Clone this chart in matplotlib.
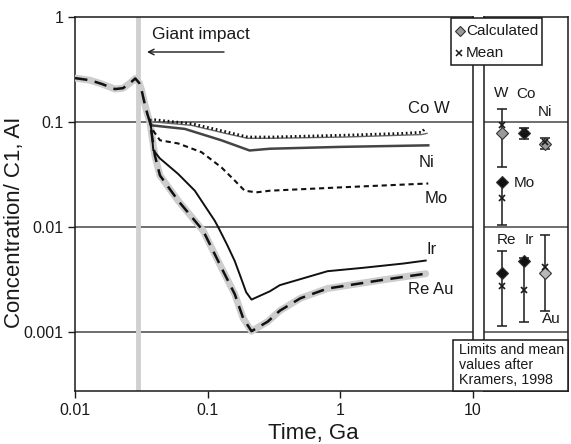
import matplotlib
matplotlib.use("Agg")
import matplotlib.pyplot as plt
from matplotlib.patches import Rectangle

plt.rcParams['font.family'] = ['Liberation Sans', 'DejaVu Sans']

# ---- data ----
# common early part (all elements together before the giant impact)
t_early = [0.01, 0.013, 0.016, 0.02, 0.023, 0.026, 0.0285, 0.0305, 0.0318, 0.0335, 0.0352, 0.0367]
c_early = [0.262, 0.25, 0.23, 0.206, 0.21, 0.235, 0.26, 0.235, 0.2, 0.15, 0.118, 0.1]

t_W = [0.0367, 0.04, 0.0757, 0.142, 0.2, 0.3, 1.1, 3.0, 4.1, 4.4]
c_W = [0.104, 0.105, 0.0965, 0.080, 0.072, 0.072, 0.075, 0.078, 0.080, 0.088]

t_Co = [0.0367, 0.04, 0.0757, 0.142, 0.2, 0.3, 1.1, 4.1, 4.5]
c_Co = [0.1, 0.1, 0.093, 0.077, 0.070, 0.070, 0.072, 0.076, 0.078]

t_Ni = [0.0367, 0.0378, 0.0673, 0.127, 0.207, 0.295, 1.0, 4.6]
c_Ni = [0.1, 0.093, 0.086, 0.067, 0.0536, 0.0557, 0.058, 0.060]

t_Mo = [0.0367, 0.0378, 0.0437, 0.06, 0.09, 0.127, 0.16, 0.19, 0.233, 0.295, 1.1, 4.6]
c_Mo = [0.1, 0.087, 0.067, 0.0625, 0.0516, 0.037, 0.0277, 0.0222, 0.0214, 0.0222, 0.024, 0.026]

t_Ir = [0.0367, 0.0378, 0.0389, 0.0437, 0.06, 0.08, 0.113, 0.12, 0.14, 0.16, 0.178, 0.195, 0.214,
        0.295, 0.35, 0.8, 1.5, 3.0, 4.4]
c_Ir = [0.1, 0.083, 0.054, 0.045, 0.032, 0.0222, 0.0115, 0.010, 0.0068, 0.00475, 0.0033, 0.0024, 0.00204,
        0.00245, 0.0028, 0.0038, 0.0041, 0.0045, 0.0048]

t_ReAu = [0.0367, 0.04, 0.0437, 0.06, 0.08, 0.0926, 0.127, 0.16, 0.185, 0.214, 0.284,
          0.35, 0.5, 0.8, 1.95, 4.4]
c_ReAu = [0.1, 0.048, 0.031, 0.0178, 0.0115, 0.0092, 0.0041, 0.0023, 0.00136, 0.00102, 0.00126,
          0.0016, 0.0021, 0.0026, 0.0031, 0.0036]

# right panel: calculated values vs. Kramers (1998) limits and means
right_elems = ['W', 'Co', 'Ni', 'Mo', 'Re', 'Ir', 'Au']
right_col = [0, 1, 2, 0, 0, 1, 2]
calc_val = [0.0786, 0.0786, 0.0617, 0.0268, 0.00365, 0.00474, 0.00365]
mean_val = [0.0936, 0.082, 0.0645, 0.0189, 0.00274, 0.00251, 0.00416]
lim_lo = [0.0373, 0.0689, 0.0553, 0.01045, 0.00114, 0.00125, 0.00158]
lim_hi = [0.133, 0.0877, 0.0703, 0.0268, 0.0059, 0.0051, 0.0084]

# ---- figure ----
W, H = 571, 444
fig = plt.figure(figsize=(W / 100, H / 100), dpi=100)
ax = fig.add_axes([75 / W, 53 / H, 398 / W, 374 / H])
ax2 = fig.add_axes([484 / W, 53 / H, 84 / W, 374 / H])

ylo, yhi = 0.000275, 1.0
grid_c = '#555555'
ink = '#1a1a1a'

ax.set_xscale('log')
ax.set_yscale('log')
ax.set_xlim(0.01, 10)
ax.set_ylim(ylo, yhi)
ax.set_xticks([0.01, 0.1, 1, 10])
ax.set_xticklabels(['0.01', '0.1', '1', '10'])
ax.set_yticks([1, 0.1, 0.01, 0.001])
ax.set_yticklabels(['1', '0.1', '0.01', '0.001'])
ax.minorticks_off()
ax.tick_params(direction='out', length=5, width=1, labelsize=11.5, colors=ink)
for v in [0.1, 0.01, 0.001]:
    ax.axhline(v, color=grid_c, lw=1.2, zorder=1)
for s in ax.spines.values():
    s.set_color(ink)
    s.set_linewidth(1.1)

# giant impact marker
ax.axvline(0.03, ymin=0.008, ymax=1, color='#d0d0d0', lw=3.5, zorder=2)

# curves
def full(t, c):
    return t_early + t[1:], c_early + c[1:]

x, y = full(t_ReAu, c_ReAu)
ax.plot(x, y, color='#cdcdcd', lw=5, solid_capstyle='round', solid_joinstyle='round', zorder=3)
ax.plot(x, y, color='#111111', lw=1.8, dashes=(5, 3), zorder=4)
ax.plot(t_Co, c_Co, color='#666666', lw=1.0, zorder=4)
ax.plot(t_W, c_W, color='#111111', lw=2.0, dashes=(0.6, 1.0), zorder=5)
ax.plot(t_Ni, c_Ni, color='#444444', lw=1.8, zorder=4)
ax.plot(t_Mo, c_Mo, color='#111111', lw=1.5, dashes=(2.5, 1.8), zorder=4)
ax.plot(t_Ir, c_Ir, color='#111111', lw=1.4, zorder=4)

# right panel
ax2.set_yscale('log')
ax2.set_ylim(ylo, yhi)
ax2.set_xlim(-0.86, 3.06)
ax2.set_xticks([])
ax2.set_yticks([])
ax2.minorticks_off()
for v in [0.1, 0.01, 0.001]:
    ax2.axhline(v, color=grid_c, lw=1.2, zorder=1)
for s in ax2.spines.values():
    s.set_color(ink)
    s.set_linewidth(1.1)

calc_face = {'W': '#9a9a9a', 'Co': '#111111', 'Ni': '#9a9a9a', 'Mo': '#111111',
             'Re': '#111111', 'Ir': '#111111', 'Au': '#b8b8b8'}
for el, col, cv, mv, lo, hi in zip(right_elems, right_col, calc_val, mean_val, lim_lo, lim_hi):
    ax2.errorbar([col], [mv], yerr=[[mv - lo], [hi - mv]], fmt='none',
                 ecolor=ink, elinewidth=1.1, capsize=3.5, capthick=1.1, zorder=3)
    ax2.plot([col], [cv], marker='D', ms=6.5, mfc=calc_face[el], mec='#333333',
             mew=0.8, ls='none', zorder=4)
    ax2.plot([col], [mv], marker='x', ms=5, mec=ink, mew=1.2, ls='none', zorder=5)

# overlay in pixel coordinates for boxes and labels
ov = fig.add_axes([0, 0, 1, 1])
ov.set_xlim(0, W)
ov.set_ylim(H, 0)
ov.axis('off')
ov.patch.set_alpha(0)

ov.text(15, 222, 'Concentration/ C1, AI', fontsize=16, rotation=90,
        va='center', ha='center', color=ink)
ov.text(313, 433, 'Time, Ga', fontsize=16, va='center', ha='center', color=ink)

ov.add_patch(Rectangle((451, 18), 91, 47, facecolor='white', edgecolor=ink, lw=1.1, zorder=5))
ov.plot([460], [31], marker='D', ms=5, mfc='#9a9a9a', mec='#333333', mew=0.8, zorder=6)
ov.text(466, 31, 'Calculated', fontsize=11, va='center', ha='left', color=ink, zorder=6)
ov.plot([459], [53], marker='x', ms=4.5, mec=ink, mew=1.1, zorder=6)
ov.text(466, 53, 'Mean', fontsize=11, va='center', ha='left', color=ink, zorder=6)

ov.add_patch(Rectangle((453, 340), 115, 51, facecolor='white', edgecolor=ink, lw=1.1, zorder=5))
ov.text(459, 365, 'Limits and mean\nvalues after\nKramers, 1998', fontsize=10.3,
        va='center', ha='left', color=ink, linespacing=1.05, zorder=6)

ov.text(152, 35, 'Giant impact', fontsize=12.5, va='center', ha='left', color=ink)
ov.annotate('', xy=(147, 52), xytext=(224, 52),
            arrowprops=dict(arrowstyle='->', lw=1.0, color=ink, shrinkA=0, shrinkB=0))

curve_labels = [('Co W', 408, 108), ('Ni', 419, 162), ('Mo', 425, 198),
                ('Ir', 426, 249), ('Re Au', 408, 289)]
for txt, px, py in curve_labels:
    ov.text(px, py, txt, fontsize=12, va='center', ha='left', color=ink)

el_labels = [('W', 494, 93), ('Co', 516, 94), ('Ni', 538, 112), ('Mo', 514, 183),
             ('Re', 497, 240), ('Ir', 525, 240), ('Au', 542, 319)]
for txt, px, py in el_labels:
    ov.text(px, py, txt, fontsize=11, va='center', ha='left', color=ink)

fig.savefig('out.png', dpi=100)
